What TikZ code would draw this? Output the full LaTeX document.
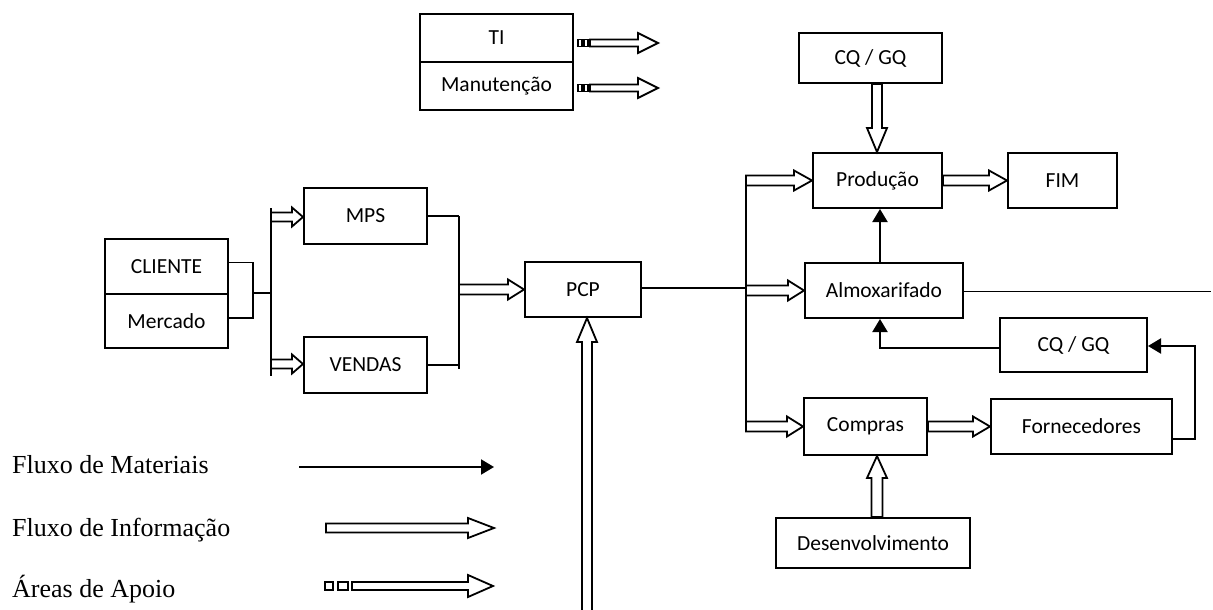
\documentclass[tikz,border=0pt]{standalone}
\usepackage{fontspec}
\setmainfont{Liberation Serif}
\newfontfamily\boxfont{Carlito}
\usetikzlibrary{calc,arrows.meta}
\newcommand\infoarr[5]{% start, end, shaft half, head half, head length
  \path #1 coordinate (ia-s) #2 coordinate (ia-e);
  \path ($(ia-e)!#5!(ia-s)$) coordinate (ia-b);
  \draw[infoline] ($(ia-s)!#3!90:(ia-e)$) -- ($(ia-b)!#3!90:(ia-e)$) -- ($(ia-b)!#4!90:(ia-e)$) -- (ia-e)
     -- ($(ia-b)!#4!-90:(ia-e)$) -- ($(ia-b)!#3!-90:(ia-e)$) -- ($(ia-s)!#3!-90:(ia-e)$) -- cycle;
}
\begin{document}
\begin{tikzpicture}[x=1pt,y=-1pt,
  box/.style={draw,line width=2pt,inner sep=0pt,font=\boxfont\fontsize{21.5}{25}\selectfont},
  ln/.style={line width=1.8pt},
  infoline/.style={line width=1.8pt,line join=miter},
  sq/.style={line width=1.5pt},
  mat/.style={line width=2pt,-{Triangle[length=13pt,width=15pt]}},
  lab/.style={font=\fontsize{26}{30}\selectfont,anchor=base west,inner sep=0pt}]
\clip (0,0) rectangle (1213,610);
\fill[white] (0,0) rectangle (1213,610);

% boxes
\node[box,minimum width=153pt,minimum height=48pt] (TI) at (496.5,38) {TI};
\node[box,minimum width=153pt,minimum height=48pt] (Manut) at (496.5,86) {Manutenção};
\node[box,minimum width=143pt,minimum height=50pt] (CQtop) at (870.5,58) {CQ / GQ};
\node[box,minimum width=129pt,minimum height=55pt] (Prod) at (877.5,180.5) {Produção};
\node[box,minimum width=109pt,minimum height=55pt] (FIM) at (1062.5,180.5) {FIM};
\node[box,minimum width=123pt,minimum height=56pt] (MPS) at (365.5,216) {MPS};
\node[box,minimum width=123pt,minimum height=56pt] (VENDAS) at (365.5,365) {VENDAS};
\node[box,minimum width=123pt,minimum height=55pt] (CLIENTE) at (166.5,266.5) {CLIENTE};
\node[box,minimum width=123pt,minimum height=54pt] (Mercado) at (166.5,321) {Mercado};
\node[box,minimum width=116pt,minimum height=55pt] (PCP) at (583,289.5) {PCP};
\node[box,minimum width=158pt,minimum height=55pt] (Almox) at (884,290.5) {Almoxarifado};
\node[box,minimum width=147pt,minimum height=54pt] (CQlow) at (1073.5,345) {CQ / GQ};
\node[box,minimum width=181pt,minimum height=55pt] (Forn) at (1081.5,426.5) {Fornecedores};
\node[box,minimum width=123pt,minimum height=57pt] (Compras) at (865.5,426.5) {Compras};
\node[box,minimum width=194pt,minimum height=50pt] (Desenv) at (873,543) {Desenvolvimento};

% coordinates
\coordinate (cm) at (253,293);
\coordinate (busL-top) at (271,208);
\coordinate (busL-bot) at (271,376);
\coordinate (busM-top) at (459,216);
\coordinate (busM-bot) at (459,369);
\coordinate (busR-top) at (746,177);
\coordinate (busR-bot) at (746,432);
\coordinate (almoxEnd) at (1211,291.5);
\coordinate (pcpIn) at (587,615);
\coordinate (xA) at (877,0);

% client connectors
\draw[ln] ($(CLIENTE.east)+(0,-4)$) -| (cm) |- ($(Mercado.east)+(0,-3)$);
\draw[ln] (cm) -- (cm -| busL-top);
\draw[ln] (busL-top) -- (busL-bot);
\infoarr{($(MPS.west -| busL-top)+(0,1)$)}{($(MPS.west)+(0,1)$)}{4.5pt}{9.5pt}{11pt}
\infoarr{($(VENDAS.west -| busL-top)+(0,-1)$)}{($(VENDAS.west)+(0,-1)$)}{4.5pt}{9.5pt}{11pt}

% MPS / VENDAS to PCP
\draw[ln] (MPS.east) -- (MPS.east -| busM-top);
\draw[ln] (VENDAS.east) -- (VENDAS.east -| busM-top);
\draw[ln] (busM-top) -- (busM-bot);
\infoarr{(PCP.west -| busM-top)}{(PCP.west)}{5pt}{10pt}{16pt}

% PCP to right bus
\draw[ln] ($(PCP.east)+(0,-1.5)$) -- ($(PCP.east -| busR-top)+(0,-1.5)$);
\draw[ln] (busR-top) -- (busR-bot);
\infoarr{(Prod.west -| busR-top)}{(Prod.west)}{5pt}{10pt}{18pt}
\infoarr{(Almox.west -| busR-top)}{(Almox.west)}{5pt}{10pt}{16pt}
\infoarr{(Compras.west -| busR-top)}{(Compras.west)}{5pt}{10pt}{16pt}

% PCP bottom
\infoarr{(pcpIn)}{(PCP.south -| pcpIn)}{5pt}{10pt}{24pt}

% production area
\infoarr{(CQtop.south -| xA)}{(Prod.north -| xA)}{5pt}{10pt}{24pt}
\infoarr{(Prod.east)}{(FIM.west)}{5pt}{10pt}{18pt}
\draw[mat] ($(Almox.north)+(-4,0)$) -- ($(Prod.south)+(2.5,0)$);
\draw[ln] (Almox.east |- almoxEnd) -- (almoxEnd);
\draw[mat] ($(CQlow.west)+(0,3)$) -| ($(Almox.south)+(-4,0)$);
\draw[mat] ($(Forn.south east)+(0,-16)$) -- ++(22,0) |- ($(CQlow.east)+(0,1)$);
\infoarr{(Compras.east)}{(Forn.west)}{5pt}{10pt}{17pt}
\infoarr{(Desenv.north -| xA)}{(Compras.south -| xA)}{5.5pt}{10pt}{22pt}

% support arrows
\coordinate (ti-s) at (578,43);
\coordinate (ti-e) at (658,43);
\coordinate (mn-s) at (578,88);
\coordinate (mn-e) at (658,88);
\foreach \c in {ti-s,mn-s}{
  \draw[sq] ($(\c)+(0,-3.5)$) rectangle ++(4,7);
  \draw[sq] ($(\c)+(6,-3.5)$) rectangle ++(4,7);
}
\infoarr{($(ti-s)+(12,0)$)}{(ti-e)}{3.5pt}{10pt}{20pt}
\infoarr{($(mn-s)+(12,0)$)}{(mn-e)}{3.5pt}{10pt}{20pt}

% legend
\node[lab] (l1) at (12,473) {Fluxo de Materiais};
\node[lab] (l2) at (12,536) {Fluxo de Informação};
\node[lab] (l3) at (12,597) {Áreas de Apoio};
\coordinate (lm-s) at (299,467);
\coordinate (lm-e) at (494,467);
\draw[mat] (lm-s) -- (lm-e);
\coordinate (li-s) at (326,528);
\coordinate (li-e) at (494,528);
\infoarr{(li-s)}{(li-e)}{4.5pt}{10pt}{26pt}
\coordinate (la-s) at (325,586);
\coordinate (la-e) at (493,586);
\draw[sq] ($(la-s)+(0,-4)$) rectangle ++(8,8);
\draw[sq] ($(la-s)+(13,-4)$) rectangle ++(10,8);
\infoarr{($(la-s)+(27,0)$)}{(la-e)}{4pt}{11pt}{25pt}
\end{tikzpicture}
\end{document}
